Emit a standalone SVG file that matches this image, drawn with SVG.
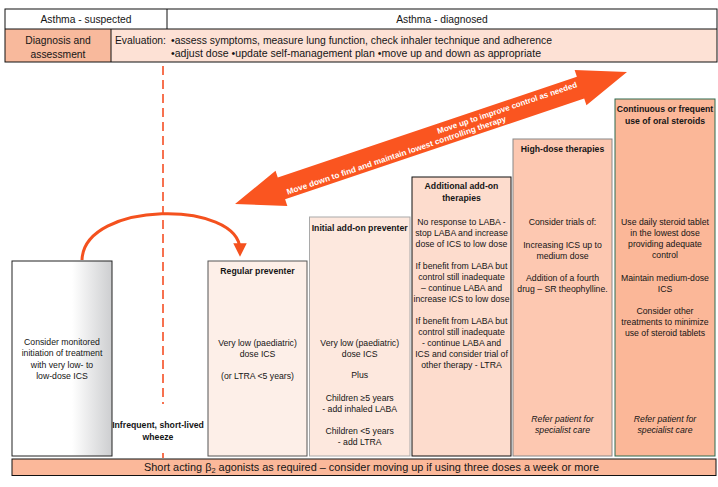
<svg xmlns="http://www.w3.org/2000/svg" width="718" height="487" viewBox="0 0 718 487">
<style>
.t{font-family:"Liberation Sans",Arial,sans-serif;font-size:8.7px;fill:#151515;text-anchor:middle}
.b{font-weight:bold}
.i{font-style:italic}
.h{font-family:"Liberation Sans",Arial,sans-serif;font-size:10.3px;fill:#151515}
.w{font-family:"Liberation Sans",Arial,sans-serif;font-size:8px;font-weight:bold;fill:#ffffff}
</style>
<defs>
<linearGradient id="grey" x1="0" y1="0" x2="1" y2="0">
<stop offset="0" stop-color="#ffffff"/>
<stop offset="0.6" stop-color="#ffffff"/>
<stop offset="1" stop-color="#cdced0"/>
</linearGradient>
<marker id="ah" viewBox="0 0 10 10" refX="5" refY="5" markerWidth="4.5" markerHeight="4.5" orient="auto" markerUnits="strokeWidth">
<path d="M0,0 L10,5 L0,10 Z" fill="#f4511e"/>
</marker>
</defs>
<rect width="718" height="487" fill="#ffffff"/>

<g id="header">
<rect x="5" y="29" width="106" height="33" fill="#f8b99c"/>
<rect x="111" y="29" width="606" height="33" fill="#fde1d5"/>
<rect x="5" y="9" width="712" height="53" fill="none" stroke="#111" stroke-width="1"/>
<line x1="5" y1="29" x2="717" y2="29" stroke="#111"/>
<line x1="167" y1="9" x2="167" y2="29" stroke="#111"/>
<line x1="111" y1="29" x2="111" y2="62" stroke="#111"/>
<text class="h" x="86" y="23" text-anchor="middle" font-size="11">Asthma - suspected</text>
<text class="h" x="442" y="23" text-anchor="middle" font-size="11">Asthma - diagnosed</text>
<text class="h" x="58" y="44" text-anchor="middle">Diagnosis and</text>
<text class="h" x="58" y="57.5" text-anchor="middle">assessment</text>
<text class="h" x="115" y="44">Evaluation:</text>
<text class="h" x="171" y="44" textLength="381" lengthAdjust="spacingAndGlyphs">•assess symptoms, measure lung function, check inhaler technique and adherence</text>
<text class="h" x="171" y="56.5" textLength="370" lengthAdjust="spacingAndGlyphs">•adjust dose •update self-management plan •move up and down as appropriate</text>
</g>

<g id="divider">
<line x1="163" y1="66" x2="163" y2="404" stroke="#f7714f" stroke-width="2" stroke-dasharray="9,5"/>
<line x1="163" y1="453" x2="163" y2="458" stroke="#f7714f" stroke-width="2"/>
</g>

<g id="connectors">
<g transform="translate(235,204) rotate(-18.61)">
<polygon points="0,0 49,-18.5 49,-11.5 364.6,-11.5 364.6,-18.5 413.6,0 364.6,18.5 364.6,11.5 49,11.5 49,18.5" fill="#fa5520"/>
<text class="w" x="362" y="-1.5" text-anchor="end" textLength="147" lengthAdjust="spacingAndGlyphs">Move up to improve control as needed</text>
<text class="w" x="53" y="8" textLength="231" lengthAdjust="spacingAndGlyphs">Move down to find and maintain lowest controlling therapy</text>
</g>
<path d="M82,260 C84,200 240,200 240,250" fill="none" stroke="#f4511e" stroke-width="3" marker-end="url(#ah)"/>
</g>

<g id="box-monitored">
<rect x="12" y="261" width="100" height="195" fill="url(#grey)" stroke="#222" stroke-width="1"/>
<text class="t" x="62" y="345">Consider monitored</text>
<text class="t" x="62" y="356.3">initiation of treatment</text>
<text class="t" x="62" y="367.6">with very low- to</text>
<text class="t" x="62" y="379">low-dose ICS</text>
</g>

<g id="label-wheeze">
<text class="t b" x="158" y="428">Infrequent, short-lived</text>
<text class="t b" x="158" y="440">wheeze</text>
</g>

<g id="box-regular">
<rect x="208" y="261" width="99" height="195" fill="#fdefe8" stroke="#555" stroke-width="1"/>
<text class="t b" x="257.5" y="274">Regular preventer</text>
<text class="t" x="257.5" y="346">Very low (paediatric)</text>
<text class="t" x="257.5" y="357">dose ICS</text>
<text class="t" x="257.5" y="379">(or LTRA &lt;5 years)</text>
</g>

<g id="box-initial-addon">
<rect x="309.5" y="217" width="100.5" height="239" fill="#fde8de" stroke="#a9a9a9" stroke-width="1"/>
<text class="t b" x="359.7" y="230.5">Initial add-on preventer</text>
<text class="t" x="359.7" y="345.5">Very low (paediatric)</text>
<text class="t" x="359.7" y="356.5">dose ICS</text>
<text class="t" x="359.7" y="378">Plus</text>
<text class="t" x="359.7" y="401">Children ≥5 years</text>
<text class="t" x="359.7" y="412">- add inhaled LABA</text>
<text class="t" x="359.7" y="433.5">Children &lt;5 years</text>
<text class="t" x="359.7" y="444.5">- add LTRA</text>
</g>

<g id="box-additional">
<rect x="412" y="177" width="99" height="279" fill="#fddccd" stroke="#111" stroke-width="1"/>
<text class="t b" x="461.5" y="189">Additional add-on</text>
<text class="t b" x="461.5" y="200.5">therapies</text>
<text class="t" x="461.5" y="225">No response to LABA -</text>
<text class="t" x="461.5" y="236">stop LABA and increase</text>
<text class="t" x="461.5" y="247">dose of ICS to low dose</text>
<text class="t" x="461.5" y="269">If benefit from LABA but</text>
<text class="t" x="461.5" y="280">control still inadequate</text>
<text class="t" x="461.5" y="291">– continue LABA and</text>
<text class="t" x="461.5" y="302">increase ICS to low dose</text>
<text class="t" x="461.5" y="324">If benefit from LABA but</text>
<text class="t" x="461.5" y="335">control still inadequate</text>
<text class="t" x="461.5" y="346">- continue LABA and</text>
<text class="t" x="461.5" y="357">ICS and consider trial of</text>
<text class="t" x="461.5" y="368">other therapy - LTRA</text>
</g>

<g id="box-high-dose">
<rect x="513" y="139" width="99" height="317" fill="#fdc8b1" stroke="#888" stroke-width="1"/>
<text class="t b" x="562.5" y="151.5">High-dose therapies</text>
<text class="t" x="562.5" y="225">Consider trials of:</text>
<text class="t" x="562.5" y="247.5">Increasing ICS up to</text>
<text class="t" x="562.5" y="258.5">medium dose</text>
<text class="t" x="562.5" y="280.5">Addition of a fourth</text>
<text class="t" x="562.5" y="291.5">drug – SR theophylline.</text>
<text class="t i" x="562.5" y="421.5">Refer patient for</text>
<text class="t i" x="562.5" y="432.5">specialist care</text>
</g>

<g id="box-oral-steroids">
<rect x="615" y="99" width="100" height="357" fill="#fbb798" stroke="#2e6b4f" stroke-width="1"/>
<text class="t b" x="665" y="112">Continuous or frequent</text>
<text class="t b" x="665" y="123.5">use of oral steroids</text>
<text class="t" x="665" y="225">Use daily steroid tablet</text>
<text class="t" x="665" y="236">in the lowest dose</text>
<text class="t" x="665" y="247">providing adequate</text>
<text class="t" x="665" y="258">control</text>
<text class="t" x="665" y="280.5">Maintain medium-dose</text>
<text class="t" x="665" y="291.5">ICS</text>
<text class="t" x="665" y="313.5">Consider other</text>
<text class="t" x="665" y="325">treatments to minimize</text>
<text class="t" x="665" y="336">use of steroid tablets</text>
<text class="t i" x="665" y="421.5">Refer patient for</text>
<text class="t i" x="665" y="432.5">specialist care</text>
</g>

<g id="bar-saba">
<rect x="12" y="459" width="704" height="16.5" fill="#fbb89a" stroke="#111" stroke-width="1"/>
<text class="h" x="144" y="471" font-size="10.5" textLength="455" lengthAdjust="spacingAndGlyphs">Short acting β<tspan font-size="7" dy="2">2</tspan><tspan dy="-2"> agonists as required – consider moving up if using three doses a week or more</tspan></text>
</g>
</svg>
